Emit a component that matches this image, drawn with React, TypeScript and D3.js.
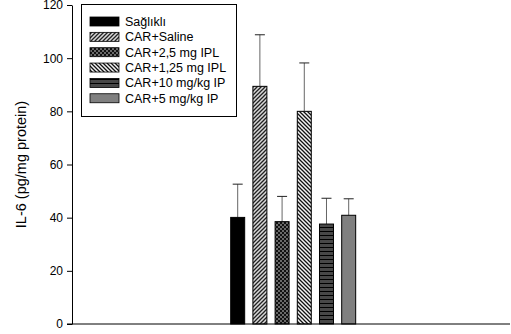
import React, { useEffect, useRef } from 'react';
import * as d3 from 'd3';

// groups (one bar each)
const groups = ['Sağlıklı', 'CAR+Saline', 'CAR+2,5 mg IPL', 'CAR+1,25 mg IPL', 'CAR+10 mg/kg IP', 'CAR+5 mg/kg IP'];
const means = [40.1, 89.4, 38.5, 80.0, 37.6, 40.9];
const errors = [12.5, 19.4, 9.5, 18.2, 9.7, 6.2];
const yTicks = [0, 20, 40, 60, 80, 100, 120];
const fills = ['#000', 'url(#p-saline)', 'url(#p-check)', 'url(#p-back)', 'url(#p-horiz)', '#808080'];

const FONT = 'Arial, "Liberation Sans", sans-serif';

const App = () => {
  const svgRef = useRef<SVGSVGElement>(null);

  useEffect(() => {
    const svg = d3.select(svgRef.current);
    svg.selectAll('*').remove();

    const width = 511;
    const height = 334;
    const margin = { top: 5, right: 1, bottom: 10, left: 72 };

    const y = d3.scaleLinear().domain([0, 120]).range([height - margin.bottom, margin.top]);
    // outer position of the single group, inner band for the bars
    const xOuter = d3.scaleLinear().domain([0, 1]).range([margin.left, width - margin.right]);
    const center = xOuter(0.505);
    const step = 22.2;
    const x = d3.scaleBand<string>()
      .domain(groups)
      .range([center - (step * groups.length) / 2, center + (step * groups.length) / 2])
      .paddingInner(0.37)
      .paddingOuter(0.185);

    // hatch patterns
    const defs = svg.append('defs');
    const saline = defs.append('pattern').attr('id', 'p-saline').attr('patternUnits', 'userSpaceOnUse')
      .attr('width', 4).attr('height', 4);
    saline.append('rect').attr('width', 4).attr('height', 4).attr('fill', '#d8d8d8');
    saline.append('path').attr('d', 'M-1,1 l2,-2 M0,4 l4,-4 M3,5 l2,-2').attr('stroke', '#222').attr('stroke-width', 1.3);

    const back = defs.append('pattern').attr('id', 'p-back').attr('patternUnits', 'userSpaceOnUse')
      .attr('width', 4).attr('height', 4);
    back.append('rect').attr('width', 4).attr('height', 4).attr('fill', '#f4f4f4');
    back.append('path').attr('d', 'M-1,3 l2,2 M0,0 l4,4 M3,-1 l2,2').attr('stroke', '#111').attr('stroke-width', 1.3);

    const check = defs.append('pattern').attr('id', 'p-check').attr('patternUnits', 'userSpaceOnUse')
      .attr('width', 4).attr('height', 4);
    check.append('rect').attr('width', 4).attr('height', 4).attr('fill', '#111');
    check.append('rect').attr('width', 2).attr('height', 2).attr('fill', '#6a6a6a');
    check.append('rect').attr('x', 2).attr('y', 2).attr('width', 2).attr('height', 2).attr('fill', '#6a6a6a');

    const horiz = defs.append('pattern').attr('id', 'p-horiz').attr('patternUnits', 'userSpaceOnUse')
      .attr('width', 4).attr('height', 4);
    horiz.append('rect').attr('width', 4).attr('height', 4).attr('fill', '#484848');
    horiz.append('rect').attr('y', 3).attr('width', 4).attr('height', 1).attr('fill', '#000');

    // error bars (upper only)
    const eb = svg.append('g');
    groups.forEach((g, i) => {
      const cx = (x(g) as number) + x.bandwidth() / 2;
      eb.append('line')
        .attr('x1', cx).attr('x2', cx)
        .attr('y1', y(means[i])).attr('y2', y(means[i] + errors[i]))
        .attr('stroke', '#666').attr('stroke-width', 1);
      eb.append('line')
        .attr('x1', cx - 5).attr('x2', cx + 5)
        .attr('y1', y(means[i] + errors[i])).attr('y2', y(means[i] + errors[i]))
        .attr('stroke', '#222').attr('stroke-width', 1);
    });

    // bars
    svg.append('g').selectAll('rect')
      .data(groups)
      .enter().append('rect')
      .attr('x', d => x(d) as number)
      .attr('y', (d, i) => y(means[i]))
      .attr('width', x.bandwidth())
      .attr('height', (d, i) => y(0) - y(means[i]))
      .attr('fill', (d, i) => fills[i])
      .attr('stroke', '#000')
      .attr('stroke-width', 1);

    // axes
    const yAxis = svg.append('g')
      .attr('transform', `translate(${margin.left},0)`)
      .call(d3.axisLeft(y).tickValues(yTicks).tickSize(5).tickPadding(4).tickSizeOuter(0));
    yAxis.select('.domain').attr('stroke', '#000');
    yAxis.selectAll('line').attr('stroke', '#000');
    yAxis.selectAll('text').attr('font-family', FONT)
      .attr('font-size', '12px').attr('fill', '#000');

    svg.append('line')
      .attr('x1', margin.left - 5).attr('x2', width - margin.right)
      .attr('y1', y(0)).attr('y2', y(0))
      .attr('stroke', '#000').attr('stroke-width', 1);

    svg.append('text')
      .attr('transform', `translate(26,${(y(0) + y(120)) / 2}) rotate(-90)`)
      .attr('text-anchor', 'middle')
      .attr('font-family', FONT)
      .attr('font-size', '14.5px')
      .text('IL-6 (pg/mg protein)');

    // legend
    const legend = svg.append('g');
    legend.append('rect')
      .attr('x', 81.5).attr('y', 4.5).attr('width', 155).attr('height', 112)
      .attr('fill', '#fff').attr('stroke', '#000').attr('stroke-width', 1);
    groups.forEach((g, i) => {
      const cy = 21.5 + i * 15.35;
      legend.append('rect')
        .attr('x', 90).attr('y', cy - 4.5).attr('width', 29).attr('height', 9)
        .attr('fill', fills[i]).attr('stroke', '#000').attr('stroke-width', 0.8);
      legend.append('text')
        .attr('x', 125).attr('y', cy + 4.5)
        .attr('font-family', FONT)
        .attr('font-size', '12.5px')
        .text(g);
    });
  }, []);

  return (
    <div style={{ position: 'fixed', left: 0, top: 0, background: '#fff' }}>
      <svg ref={svgRef} width={511} height={334} style={{ display: 'block' }}></svg>
    </div>
  );
};

export default App;
